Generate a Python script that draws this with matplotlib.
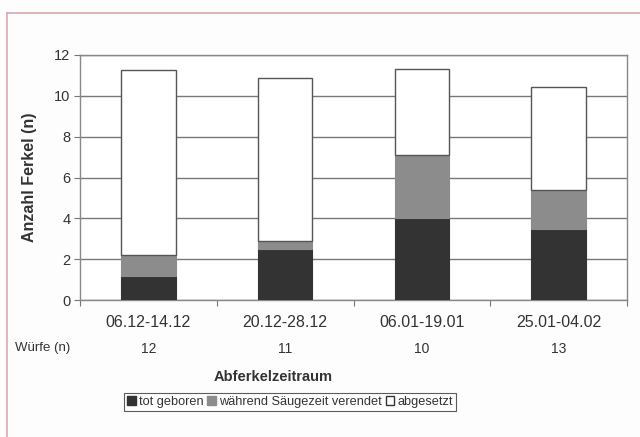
import numpy as np
import matplotlib.pyplot as plt
from matplotlib.lines import Line2D
from matplotlib.patches import Patch

plt.rcParams['font.family'] = ['Liberation Sans', 'DejaVu Sans']

# Ferkelverluste je Abferkelzeitraum
zeitraum = ['06.12-14.12', '20.12-28.12', '06.01-19.01', '25.01-04.02']
wuerfe = [12, 11, 10, 13]
tot_geboren = [1.2, 2.5, 4.0, 3.5]
saeugezeit_verendet = [1.0, 0.4, 3.1, 1.9]
abgesetzt = [9.05, 7.95, 4.2, 5.05]

farbe_tot = '#333333'
farbe_verendet = '#8c8c8c'
farbe_abgesetzt = '#ffffff'
kante = '#555555'

fig = plt.figure(figsize=(6.4, 4.37), dpi=100, facecolor='#fdfdfd')
ax = fig.add_axes([80 / 640, 1 - 300 / 437, 547 / 640, 245 / 437])
ax.set_facecolor('white')

x = np.arange(len(zeitraum))
b = 0.4
ax.bar(x, tot_geboren, b, color=farbe_tot, edgecolor=farbe_tot, linewidth=0.8, zorder=3)
unten = np.array(tot_geboren)
ax.bar(x, saeugezeit_verendet, b, bottom=unten, color=farbe_verendet,
       edgecolor=farbe_verendet, linewidth=0.8, zorder=3)
unten = unten + np.array(saeugezeit_verendet)
ax.bar(x, abgesetzt, b, bottom=unten, color=farbe_abgesetzt,
       edgecolor=kante, linewidth=1.0, zorder=3)

ax.set_xlim(-0.5, len(zeitraum) - 0.5)
ax.set_ylim(0, 12)
ax.set_yticks(range(0, 13, 2))
ax.yaxis.grid(True, color='#777777', linewidth=1.0, zorder=0)
ax.tick_params(axis='y', labelsize=10.5, colors='#777777', length=4, width=0.8, pad=3,
               labelcolor='#333333')

# Kategoriegrenzen als Teilstriche, Beschriftung mittig
ax.set_xticks(np.arange(-0.5, len(zeitraum)))
ax.set_xticklabels([])
ax.tick_params(axis='x', length=4, width=0.8, colors='#777777', direction='out')
for i, (z, n) in enumerate(zip(zeitraum, wuerfe)):
    ax.text(i, -0.06, z, transform=ax.get_xaxis_transform(), ha='center', va='top',
            fontsize=11.5, color='#333333')
    ax.text(i, -0.17, str(n), transform=ax.get_xaxis_transform(), ha='center', va='top',
            fontsize=10, color='#333333')
fig.text(15 / 640, 1 - 348 / 437, 'Würfe (n)', ha='left', va='center',
         fontsize=9.5, color='#333333')

for s in ax.spines.values():
    s.set_color('#888888')
    s.set_linewidth(1.0)

ax.set_ylabel('Anzahl Ferkel (n)', fontsize=11.5, fontweight='bold', color='#333333')
ax.yaxis.set_label_coords(-0.078, 0.5)
fig.text(273 / 640, 1 - 377 / 437, 'Abferkelzeitraum', ha='center', va='center',
         fontsize=10.5, fontweight='bold', color='#333333')

handles = [Patch(facecolor=farbe_tot, edgecolor=farbe_tot),
           Patch(facecolor=farbe_verendet, edgecolor=farbe_verendet),
           Patch(facecolor='white', edgecolor='#333333')]
leg = fig.legend(handles, ['tot geboren', 'während Säugezeit verendet', 'abgesetzt'],
                 loc='center', bbox_to_anchor=(290 / 640, 1 - 402 / 437), ncol=3,
                 fontsize=9.2, frameon=True, fancybox=False, handlelength=0.7,
                 handleheight=0.7, handletextpad=0.2, columnspacing=0.3,
                 borderpad=0.25, labelcolor='#333333')
leg.get_frame().set_edgecolor('#333333')
leg.get_frame().set_linewidth(0.8)

# Rahmenlinien oben und links
fig.add_artist(Line2D([7 / 640, 1], [1 - 13 / 437] * 2, transform=fig.transFigure,
                      color='#d8a8b0', linewidth=1.2))
fig.add_artist(Line2D([7 / 640] * 2, [0, 1 - 13 / 437], transform=fig.transFigure,
                      color='#d8a8b0', linewidth=1.2))

fig.savefig('out.png', dpi=100, facecolor=fig.get_facecolor())
